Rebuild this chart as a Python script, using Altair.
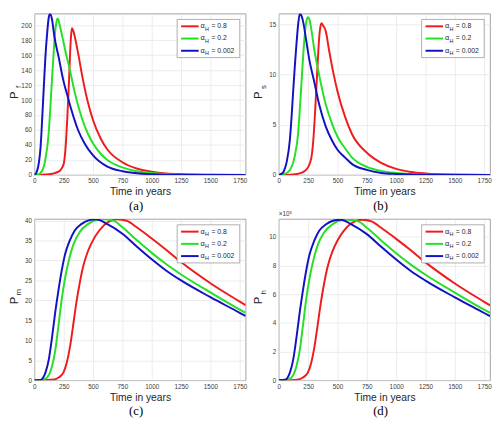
import altair as alt
import pandas as pd

# ---------------- data ----------------
ALPHA_LABELS = ["0.8", "0.2", "0.002"]
COLORS = ["#ee1c1c", "#25e025", "#1212c4"]
X_TICKS = [0, 250, 500, 750, 1000, 1250, 1500, 1750]

# (a) P_f
PF_T_RED = [0, 100, 150, 200, 225, 250, 265, 280, 295, 305, 312, 320, 330, 344, 372, 414, 456, 500, 567, 622, 750, 872, 1000, 1125, 1250, 1500, 1800]
PF_V_RED = [0, 0.5, 1.5, 4, 7, 15, 35, 75, 125, 165, 185, 196, 193, 185, 163, 127, 97, 73, 48, 34, 17, 8.6, 4.3, 2, 1, 0.2, 0]
PF_T_GRN = [0, 30, 67, 94, 122, 136, 150, 164, 178, 190, 197, 205, 219, 247, 275, 297, 344, 400, 456, 500, 567, 622, 750, 872, 1000, 1250, 1500, 1800]
PF_V_GRN = [0, 0.5, 6, 21, 56, 90, 128, 163, 193, 206, 209, 207, 198, 178, 158, 144, 110, 78, 55, 42, 28, 20, 10, 5, 2.7, 0.7, 0.2, 0]
PF_T_BLU = [0, 20, 39, 53, 67, 81, 94, 108, 122, 133, 150, 169, 206, 247, 283, 317, 372, 428, 500, 622, 750, 875, 1000, 1250, 1500, 1800]
PF_V_BLU = [0, 4, 17, 38, 77, 120, 158, 188, 210, 215, 208, 186, 158, 126, 105, 86, 60, 42, 26, 11, 5, 2.2, 1, 0.2, 0.05, 0]
PF_YTICKS = [0, 20, 40, 60, 80, 100, 120, 140, 160, 180, 200]

# (b) P_s
PS_T_RED = [0, 100, 178, 233, 275, 294, 311, 328, 344, 355, 364, 375, 400, 428, 469, 500, 567, 622, 750, 872, 1000, 1125, 1250, 1500, 1800]
PS_V_RED = [0, 0.02, 0.15, 0.5, 1.6, 3.5, 6.7, 10.5, 13.7, 14.8, 15.1, 14.9, 14.3, 12.4, 9.9, 8.3, 5.7, 4.1, 2.2, 1.2, 0.6, 0.3, 0.15, 0.03, 0]
PS_T_GRN = [0, 50, 94, 136, 164, 183, 200, 219, 235, 247, 260, 275, 303, 344, 400, 450, 500, 567, 622, 750, 872, 1000, 1250, 1800]
PS_V_GRN = [0, 0.1, 0.5, 1.9, 4.1, 7.3, 10.5, 13.7, 15.3, 15.7, 15.5, 14.6, 12.4, 9.9, 7.0, 5.2, 3.8, 2.6, 1.75, 0.8, 0.4, 0.2, 0.05, 0]
PS_T_BLU = [0, 20, 39, 67, 94, 108, 122, 136, 150, 164, 178, 190, 206, 233, 261, 303, 344, 400, 450, 500, 567, 622, 750, 875, 1000, 1250, 1800]
PS_V_BLU = [0, 0.1, 0.3, 1.3, 3.5, 5.7, 8.3, 10.8, 13.0, 14.9, 16.0, 15.9, 15.3, 13.4, 11.4, 9.2, 7.0, 4.8, 3.5, 2.5, 1.7, 1.1, 0.5, 0.2, 0.1, 0.02, 0]
PS_YTICKS = [0, 5, 10, 15]

# (c) P_m
PM_T_RED = [0, 100, 170, 206, 247, 275, 303, 331, 358, 386, 414, 456, 500, 553, 622, 706, 789, 872, 1000, 1122, 1250, 1500, 1750, 1800]
PM_V_RED = [0, 0.05, 0.2, 0.7, 1.9, 4.3, 8.3, 13.9, 19.5, 24.3, 28.3, 32.3, 35.1, 37.5, 39.5, 40.3, 39.9, 38.3, 35.5, 32.7, 29.6, 24.3, 19.7, 18.8]
PM_T_GRN = [0, 60, 108, 150, 178, 206, 233, 261, 289, 331, 386, 456, 539, 594, 678, 750, 872, 1000, 1122, 1250, 1500, 1750, 1800]
PM_V_GRN = [0, 0.05, 0.7, 3.5, 7.5, 13.9, 20.3, 25.5, 29.5, 33.9, 37.1, 39.1, 40.2, 40.3, 39.9, 38.3, 35.1, 31.9, 29.1, 26.5, 22.0, 17.7, 16.9]
PM_T_BLU = [0, 53, 94, 122, 150, 178, 206, 233, 261, 303, 344, 400, 469, 525, 622, 750, 872, 1000, 1122, 1250, 1500, 1750, 1800]
PM_V_BLU = [0, 0.1, 1.9, 5.1, 10.7, 17.1, 22.7, 27.5, 31.5, 35.1, 37.5, 39.1, 40.1, 40.3, 39.1, 36.7, 33.5, 30.3, 27.5, 25.0, 20.8, 16.9, 16.1]
PM_YTICKS = [0, 5, 10, 15, 20, 25, 30, 35, 40]

# (d) P_h  (x 10^5)
PH_T_RED = [0, 100, 170, 206, 247, 275, 303, 331, 358, 386, 414, 456, 500, 553, 622, 706, 789, 872, 1000, 1122, 1250, 1500, 1750, 1800]
PH_V_RED = [0, 0.01, 0.06, 0.19, 0.53, 1.19, 2.31, 3.86, 5.42, 6.75, 7.86, 8.97, 9.75, 10.42, 10.97, 11.2, 11.08, 10.64, 9.86, 9.08, 8.22, 6.75, 5.47, 5.22]
PH_T_GRN = [0, 60, 108, 150, 178, 206, 233, 261, 289, 331, 386, 456, 539, 594, 678, 750, 872, 1000, 1122, 1250, 1500, 1750, 1800]
PH_V_GRN = [0, 0.01, 0.19, 0.97, 2.08, 3.86, 5.64, 7.08, 8.19, 9.42, 10.31, 10.86, 11.17, 11.2, 11.08, 10.64, 9.75, 8.86, 8.08, 7.36, 6.11, 4.92, 4.7]
PH_T_BLU = [0, 53, 94, 122, 150, 178, 206, 233, 261, 303, 344, 400, 469, 525, 622, 750, 872, 1000, 1122, 1250, 1500, 1750, 1800]
PH_V_BLU = [0, 0.03, 0.53, 1.42, 2.97, 4.75, 6.31, 7.64, 8.75, 9.75, 10.42, 10.86, 11.14, 11.2, 10.86, 10.19, 9.31, 8.42, 7.64, 6.95, 5.78, 4.69, 4.47]
PH_YTICKS = [0, 2, 4, 6, 8, 10]

# ---------------- layout ----------------
W = 216
H = 165
SANS = "Liberation Sans"
SERIF = "Liberation Serif"
TXT = "#262626"
ONE = pd.DataFrame({"k": [0]})


def panel(series, ymax, yticks, sub, caption, exp_label=None):
    layers = []
    for (t, v), color in zip(series, COLORS):
        df = pd.DataFrame({"t": t, "v": v})
        layers.append(
            alt.Chart(df).mark_line(color=color, strokeWidth=2, interpolate="monotone", clip=True).encode(
                x=alt.X("t:Q", scale=alt.Scale(domain=[0, 1800], nice=False),
                        axis=alt.Axis(values=X_TICKS, format="d", title="Time in years")),
                y=alt.Y("v:Q", scale=alt.Scale(domain=[0, ymax], nice=False),
                        axis=alt.Axis(values=yticks, format="d", title=None)),
            )
        )
    # legend box
    layers.append(alt.Chart(ONE).mark_rect(fill="white", stroke="#8c8c8c", strokeWidth=0.7).encode(
        x=alt.value(W - 70), x2=alt.value(W - 6), y=alt.value(6), y2=alt.value(45)))
    for i, (lab, color) in enumerate(zip(ALPHA_LABELS, COLORS)):
        yy = 13 + 12.5 * i
        layers.append(alt.Chart(ONE).mark_rule(color=color, strokeWidth=2).encode(
            x=alt.value(W - 66), x2=alt.value(W - 48), y=alt.value(yy)))
        layers.append(alt.Chart(ONE).mark_text(text="α", font=SANS, fontSize=7.5, align="left",
                                               baseline="middle", color=TXT).encode(
            x=alt.value(W - 46), y=alt.value(yy)))
        layers.append(alt.Chart(ONE).mark_text(text="H", font=SANS, fontSize=5.5, align="left",
                                               baseline="middle", color=TXT).encode(
            x=alt.value(W - 41.5), y=alt.value(yy + 2.5)))
        layers.append(alt.Chart(ONE).mark_text(text="= " + lab, font=SANS, fontSize=7, align="left",
                                               baseline="middle", color=TXT).encode(
            x=alt.value(W - 35), y=alt.value(yy)))
    # y title P_sub
    layers.append(alt.Chart(ONE).mark_text(text="P", font=SANS, fontSize=11.5, angle=270, align="center",
                                           baseline="alphabetic", color=TXT).encode(
        x=alt.value(-17), y=alt.value(H / 2 + 1)))
    layers.append(alt.Chart(ONE).mark_text(text=sub, font=SANS, fontSize=8, angle=270, align="center",
                                           baseline="alphabetic", color=TXT).encode(
        x=alt.value(-13.5), y=alt.value(H / 2 - 7.5)))
    # caption
    layers.append(alt.Chart(ONE).mark_text(text=caption, font=SERIF, fontSize=13, align="center",
                                           baseline="middle", color="black").encode(
        x=alt.value(W / 2 - 4), y=alt.value(H + 32)))
    if exp_label:
        layers.append(alt.Chart(ONE).mark_text(text=exp_label, font=SANS, fontSize=6.5, align="left",
                                               baseline="alphabetic", color="#404040").encode(
            x=alt.value(0), y=alt.value(-2.5)))
    return alt.layer(*layers).properties(width=W, height=H)


pa = panel([(PF_T_RED, PF_V_RED), (PF_T_GRN, PF_V_GRN), (PF_T_BLU, PF_V_BLU)], 215.5, PF_YTICKS, "f", "(a)")
pb = panel([(PS_T_RED, PS_V_RED), (PS_T_GRN, PS_V_GRN), (PS_T_BLU, PS_V_BLU)], 16.05, PS_YTICKS, "s", "(b)")
pc = panel([(PM_T_RED, PM_V_RED), (PM_T_GRN, PM_V_GRN), (PM_T_BLU, PM_V_BLU)], 40.4, PM_YTICKS, "m", "(c)")
pdd = panel([(PH_T_RED, PH_V_RED), (PH_T_GRN, PH_V_GRN), (PH_T_BLU, PH_V_BLU)], 11.25, PH_YTICKS, "h", "(d)",
            exp_label="×10⁵")

chart = alt.concat(pa, pb, pc, pdd, columns=2, spacing={"row": 45, "column": 34}, bounds="flush").properties(
    padding=0
).configure_view(
    stroke="#8a8a8a", strokeWidth=0.8
).configure_axis(
    grid=True, gridColor="#e3e3e3", gridWidth=0.7, domain=False, ticks=False, tickSize=0,
    labelFont=SANS, labelFontSize=6.5, labelColor="#404040", labelPadding=3, labelFlush=False,
    labelOverlap=False,
    titleFont=SANS, titleFontSize=10.5, titleFontWeight="normal", titleColor=TXT, titlePadding=3,
)

chart.save("out.html", embed_options={"renderer": "svg", "actions": False})
